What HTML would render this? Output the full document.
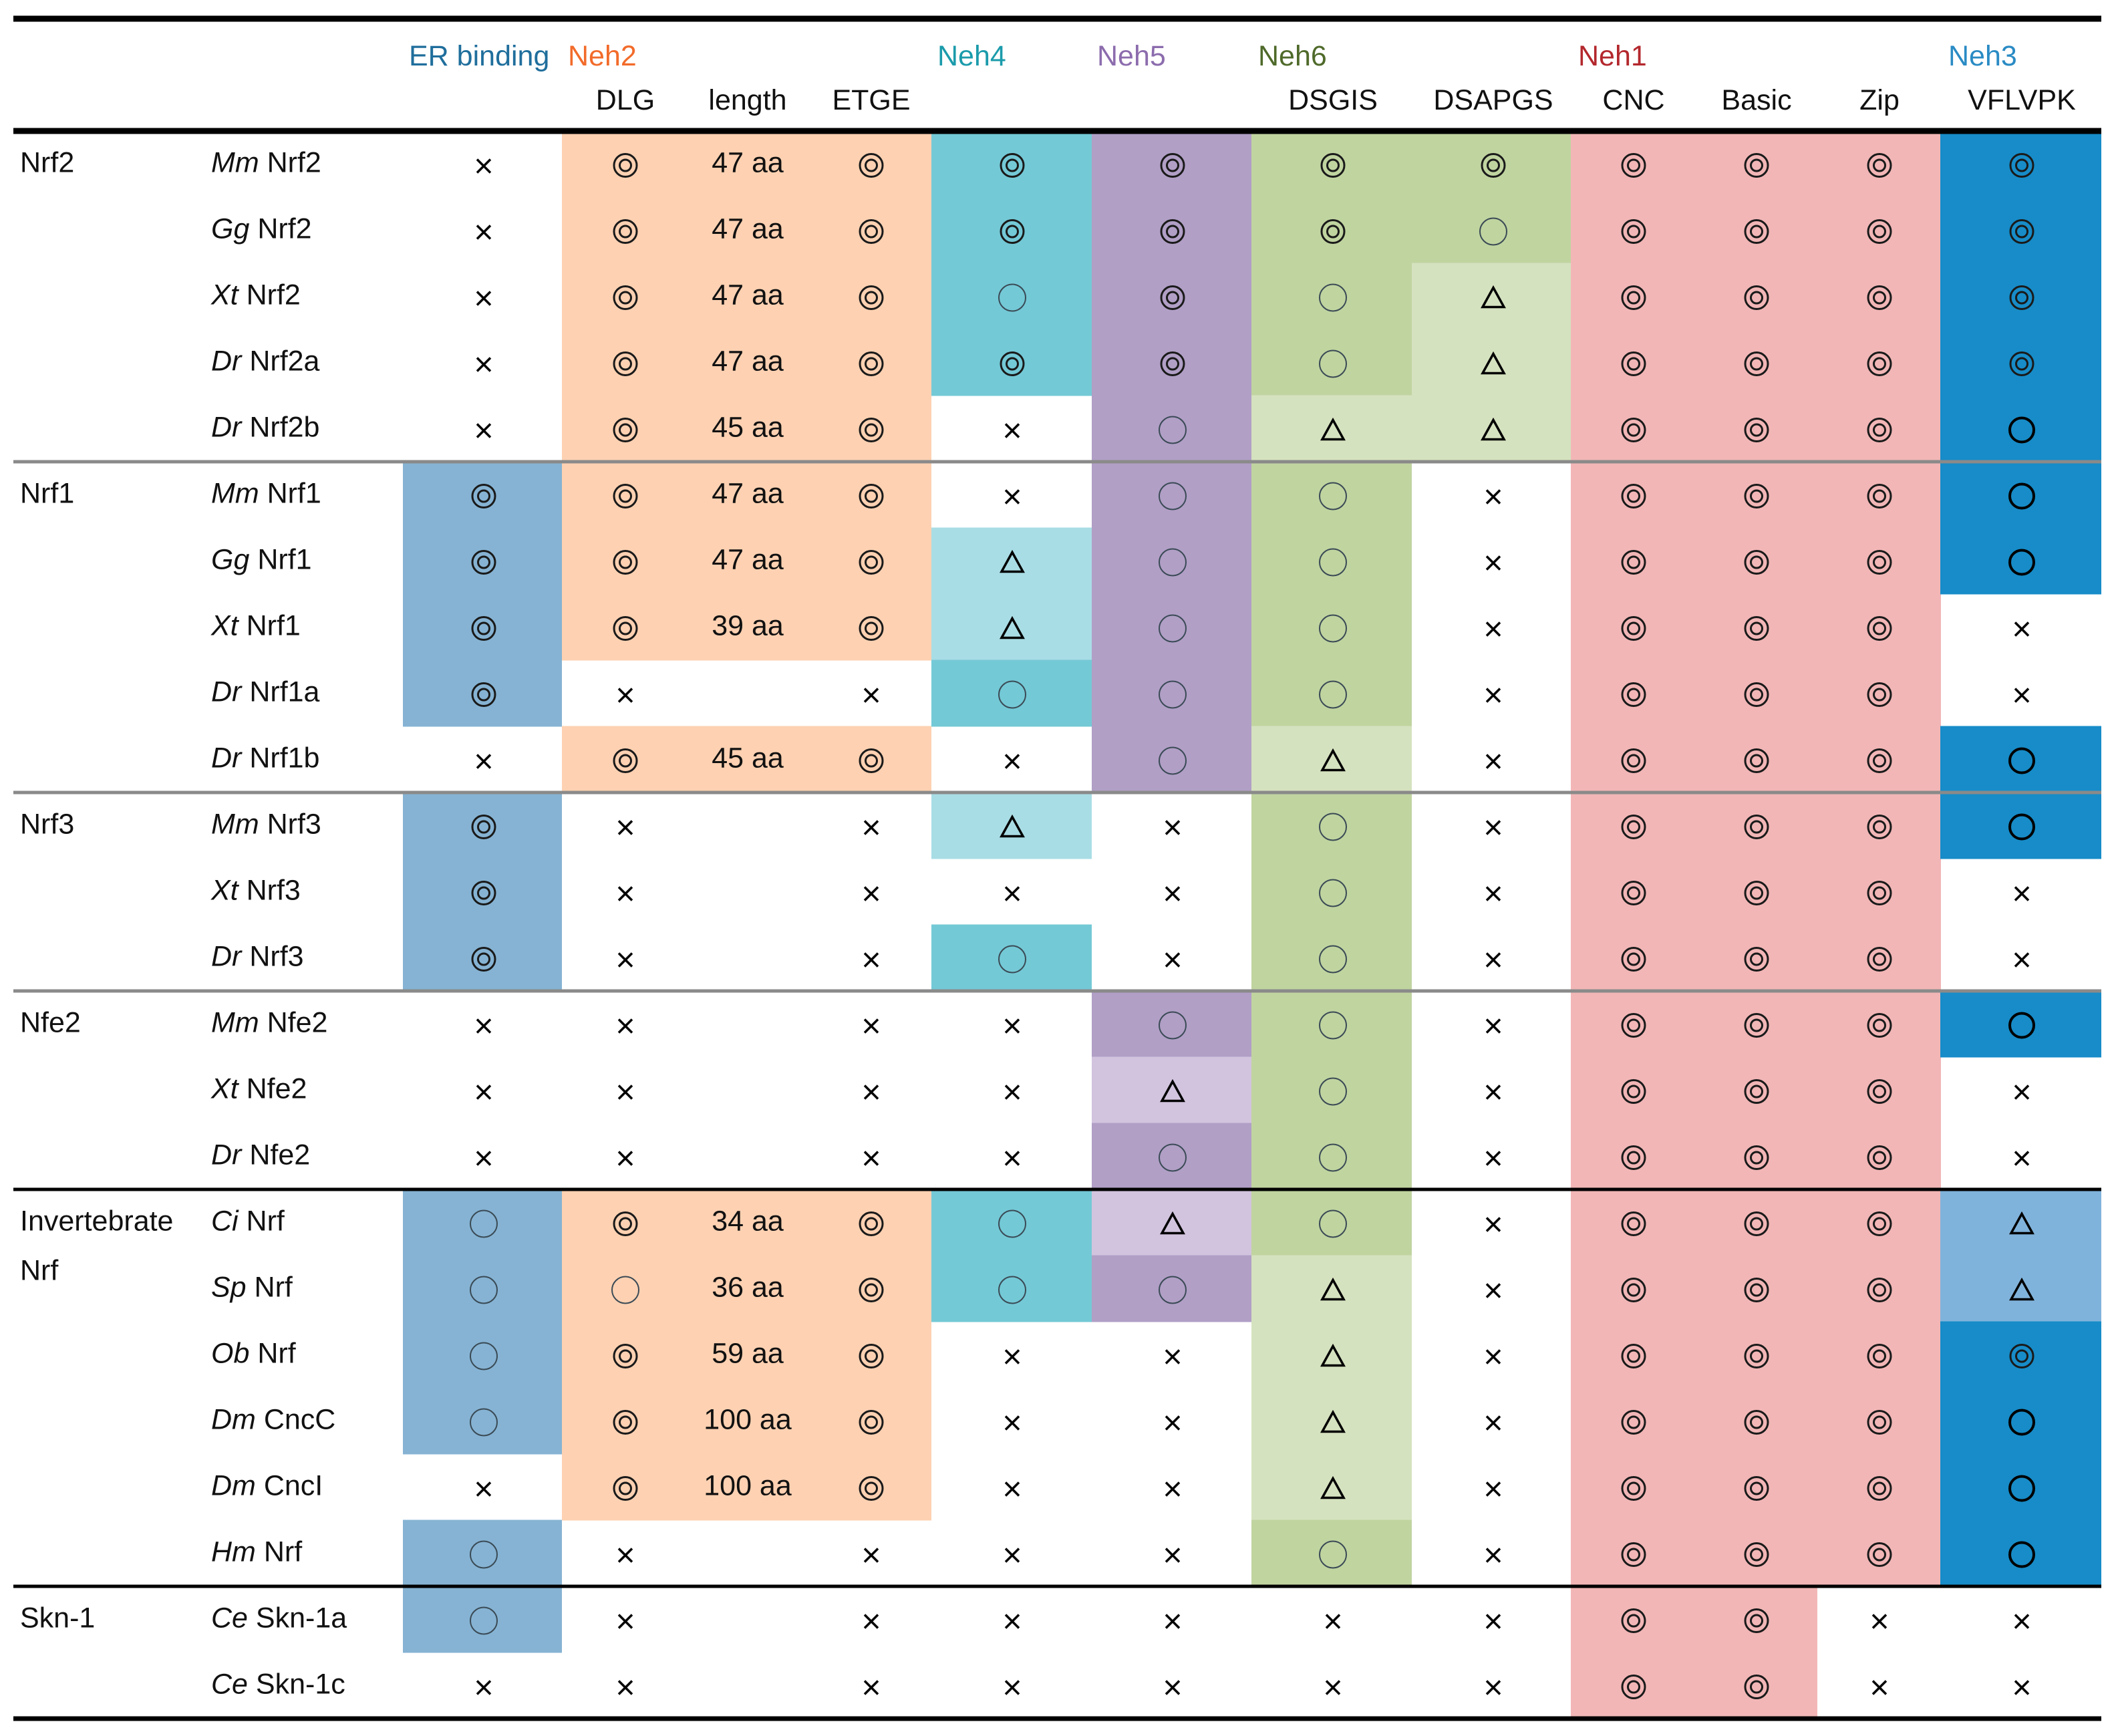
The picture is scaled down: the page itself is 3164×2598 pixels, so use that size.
<!DOCTYPE html>
<html><head><meta charset="utf-8">
<style>
html,body{margin:0;padding:0;background:#fff;}
svg{display:block;}
text{font-family:"Liberation Sans",Arial,sans-serif;}
</style></head>
<body>
<svg id="tbl" xmlns="http://www.w3.org/2000/svg" width="3164" height="2598" viewBox="0 0 3164 2598"></svg>
<script>
// ---- data ----
const groups = ["Nrf2","","","","","Nrf1","","","","","Nrf3","","","Nfe2","","","Invertebrate","","","","","","Skn-1",""];
const speciesPrefix = ["Mm","Gg","Xt","Dr","Dr","Mm","Gg","Xt","Dr","Dr","Mm","Xt","Dr","Mm","Xt","Dr","Ci","Sp","Ob","Dm","Dm","Hm","Ce","Ce"];
const speciesName = ["Nrf2","Nrf2","Nrf2","Nrf2a","Nrf2b","Nrf1","Nrf1","Nrf1","Nrf1a","Nrf1b","Nrf3","Nrf3","Nrf3","Nfe2","Nfe2","Nfe2","Nrf","Nrf","Nrf","CncC","CncI","Nrf","Skn-1a","Skn-1c"];
const lengths = ["47 aa","47 aa","47 aa","47 aa","45 aa","47 aa","47 aa","39 aa","","45 aa","","","","","","","34 aa","36 aa","59 aa","100 aa","100 aa","","",""];
// symbols per column: ER, DLG, ETGE, Neh4, Neh5, DSGIS, DSAPGS, CNC, Basic, Zip, VFLVPK  (D double circle, O circle, T triangle, X cross)
const symER    = ["X","X","X","X","X","D","D","D","D","X","D","D","D","X","X","X","O","O","O","O","X","O","O","X"];
const symDLG   = ["D","D","D","D","D","D","D","D","X","D","X","X","X","X","X","X","D","O","D","D","D","X","X","X"];
const symETGE  = ["D","D","D","D","D","D","D","D","X","D","X","X","X","X","X","X","D","D","D","D","D","X","X","X"];
const symNeh4  = ["D","D","O","D","X","X","T","T","O","X","T","X","O","X","X","X","O","O","X","X","X","X","X","X"];
const symNeh5  = ["D","D","D","D","O","O","O","O","O","O","X","X","X","O","T","O","T","O","X","X","X","X","X","X"];
const symDSGIS = ["D","D","O","O","T","O","O","O","O","T","O","O","O","O","O","O","O","T","T","T","T","O","X","X"];
const symDSAP  = ["D","O","T","T","T","X","X","X","X","X","X","X","X","X","X","X","X","X","X","X","X","X","X","X"];
const symCNC   = ["D","D","D","D","D","D","D","D","D","D","D","D","D","D","D","D","D","D","D","D","D","D","D","D"];
const symBasic = ["D","D","D","D","D","D","D","D","D","D","D","D","D","D","D","D","D","D","D","D","D","D","D","D"];
const symZip   = ["D","D","D","D","D","D","D","D","D","D","D","D","D","D","D","D","D","D","D","D","D","D","X","X"];
const symNeh3  = ["D","D","D","D","O","O","O","X","X","O","O","X","X","O","X","X","T","T","D","O","O","O","X","X"];
// shading levels: 2 dark, 1 light, 0 none
const bgER    = [0,0,0,0,0,2,2,2,2,0,2,2,2,0,0,0,2,2,2,2,0,2,2,0];
const bgNeh2  = [2,2,2,2,2,2,2,2,0,2,0,0,0,0,0,0,2,2,2,2,2,0,0,0];
const bgNeh4  = [2,2,2,2,0,0,1,1,2,0,1,0,2,0,0,0,2,2,0,0,0,0,0,0];
const bgNeh5  = [2,2,2,2,2,2,2,2,2,2,0,0,0,2,1,2,1,2,0,0,0,0,0,0];
const bgDSGIS = [2,2,2,2,1,2,2,2,2,1,2,2,2,2,2,2,2,1,1,1,1,2,0,0];
const bgDSAP  = [2,2,1,1,1,0,0,0,0,0,0,0,0,0,0,0,0,0,0,0,0,0,0,0];
const bgNeh1A = [2,2,2,2,2,2,2,2,2,2,2,2,2,2,2,2,2,2,2,2,2,2,2,2];
const bgZip   = [2,2,2,2,2,2,2,2,2,2,2,2,2,2,2,2,2,2,2,2,2,2,0,0];
const bgNeh3  = [2,2,2,2,2,2,2,0,0,2,2,0,0,2,0,0,1,1,2,2,2,2,0,0];
const separators = [5,10,13,16,22];
const sepDark = [false,false,false,true,true];

// ---- layout ----
const NS="http://www.w3.org/2000/svg";
const svg=document.getElementById('tbl');
const ROW0=196, RH=99.0;
const rowY=i=>ROW0+i*RH;
const rowC=i=>ROW0+i*RH+RH/2;
function el(tag,attrs,parent){const e=document.createElementNS(NS,tag);for(const k in attrs)e.setAttribute(k,attrs[k]);(parent||svg).appendChild(e);return e;}

const colors={
 er:[null,'#86b3d3','#86b3d3'], neh2:[null,'#fdd1b2','#fdd1b2'],
 neh4:[null,'#a9dde5','#74c9d6'], neh5:[null,'#d2c4de','#b19fc6'],
 neh6:[null,'#d5e2bf','#c0d4a0'], neh1:[null,'#f2b6b6','#f2b6b6'],
 neh3:[null,'#80b3db','#178cc8']
};
const bgCols=[
 [bgER,603,841,'er','er-binding'],[bgNeh2,841,1394,'neh2','neh2'],[bgNeh4,1394,1634,'neh4','neh4'],
 [bgNeh5,1634,1873,'neh5','neh5'],[bgDSGIS,1873,2113,'neh6','dsgis'],[bgDSAP,2113,2351,'neh6','dsapgs'],
 [bgNeh1A,2351,2720,'neh1','cnc-basic'],[bgZip,2719,2905,'neh1','zip'],[bgNeh3,2904,3145,'neh3','vflvpk']
];
bgCols.forEach(c=>{
  c[0].forEach((lv,i)=>{
    if(!lv)return;
    const r=el('rect',{x:c[1],y:rowY(i)-0.5,width:c[2]-c[1],height:RH+1,fill:colors[c[3]][lv]});
    
    
  });
});

function symbol(kind,cx,cy,bold,name){
  const g=el('g',{});
  
  
  if(kind==='D'){
    el('circle',{cx,cy:cy+2,r:17,fill:'none',stroke:'#1a1a1a','stroke-width':bold?3.5:3},g);
    el('circle',{cx,cy:cy+2,r:8.5,fill:'none',stroke:'#1a1a1a','stroke-width':bold?3.5:3},g);
  }else if(kind==='O'){
    el('circle',{cx,cy:cy+2,r:bold?18:20,fill:'none',stroke:bold?'#000':'#3a4a55','stroke-width':bold?4:2},g);
  }else if(kind==='T'){
    el('polygon',{points:`${cx},${cy-13} ${cx+16},${cy+16} ${cx-16},${cy+16}`,fill:'none',stroke:'#000','stroke-width':3.5,'stroke-linejoin':'miter'},g);
  }else if(kind==='X'){
    el('path',{d:`M${cx-10},${cy-7} L${cx+10},${cy+13} M${cx+10},${cy-7} L${cx-10},${cy+13}`,stroke:'#000','stroke-width':3.5,fill:'none'},g);
  }
}
const symCols=[
 [symER,724,'er-binding'],[symDLG,936,'dlg'],[symETGE,1304,'etge'],[symNeh4,1515,'neh4'],[symNeh5,1755,'neh5'],
 [symDSGIS,1995,'dsgis'],[symDSAP,2235,'dsapgs'],[symCNC,2445,'cnc'],[symBasic,2629,'basic'],[symZip,2813,'zip'],[symNeh3,3026,'vflvpk']
];
symCols.forEach(c=>{
  c[0].forEach((s,i)=>symbol(s,c[1],rowC(i),c[2]==='vflvpk' && (s==='O'),c[2]+'-symbol-'+(i+1)));
});

function txt(str,x,y,opts){
  const t=el('text',Object.assign({x,y,'font-size':43,fill:'#111'},opts||{}));
  t.textContent=str;return t;
}
lengths.forEach((l,i)=>{ if(!l)return;
  const t=txt(l,1119,rowC(i)+12,{'text-anchor':'middle'});
  
  
});
speciesName.forEach((n,i)=>{
  const t=el('text',{x:316,y:rowC(i)+12,'font-size':43,fill:'#111'});
  
  
  const a=el('tspan',{'font-style':'italic'},t);a.textContent=speciesPrefix[i];
  const b=el('tspan',{},t);b.textContent=' '+n;
});
groups.forEach((g,i)=>{ if(!g)return;
  const t=txt(g,30,rowC(i)+12);
  
  
});
const nrfLbl=txt('Nrf',30,rowC(16)+86);



// headers
const topHdr=[['ER binding',612,'#1f6e9c'],['Neh2',850,'#f26b2a'],['Neh4',1403,'#1b9bab'],['Neh5',1642,'#8c6cad'],['Neh6',1883,'#4f6a2a'],['Neh1',2362,'#b3282d'],['Neh3',2916,'#2a8bc4']];
topHdr.forEach(h=>{const t=txt(h[0],h[1],98,{fill:h[2]});
  
  });
const subHdr=[['DLG',936],['length',1119],['ETGE',1304],['DSGIS',1995],['DSAPGS',2235],['CNC',2445],['Basic',2629],['Zip',2813],['VFLVPK',3026]];
subHdr.forEach(h=>{const t=txt(h[0],h[1],164,{'text-anchor':'middle'});
  
  });

// rules
function rule(y,w,c,name){const r=el('rect',{x:20,y:y-w/2,width:3125,height:w,fill:c});
  
  }
rule(28,9,'#000','top-rule');
rule(196,9,'#000','header-rule');
separators.forEach((s,k)=>rule(rowY(s),sepDark[k]?5:5,sepDark[k]?'#000':'#8a8a8a','group-separator'));
rule(rowY(24),7,'#000','bottom-rule');
</script>
</body></html>
